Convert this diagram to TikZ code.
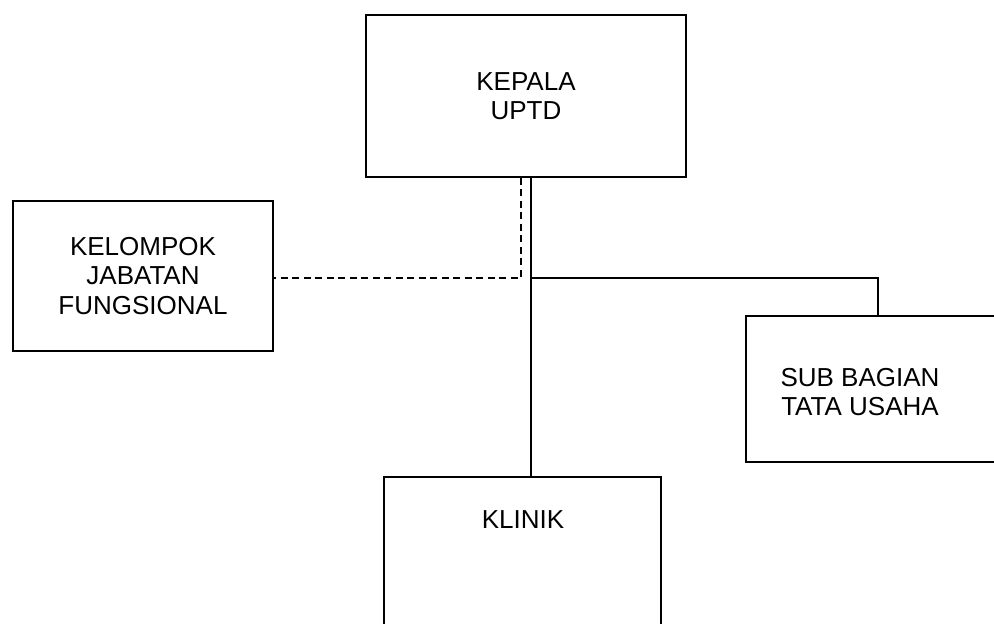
\documentclass[tikz,border=0pt]{standalone}
\usepackage{fontspec}
\setmainfont{Liberation Sans}
\begin{document}
\begin{tikzpicture}[x=1pt,y=-1pt,
  box/.style={draw=black, line width=1.8pt, rectangle, inner sep=0pt, align=center,
    font=\fontsize{26}{29.5}\selectfont},
  lbl/.style={inner sep=0pt, align=center, font=\fontsize{26}{29.5}\selectfont},
  conn/.style={draw=black, line width=1.8pt},
  dconn/.style={draw=black, line width=1.8pt, dash pattern=on 7pt off 4.5pt}]
\useasboundingbox (0,0) rectangle (994,624);
\clip (0,0) rectangle (994,624);
\fill[white] (0,0) rectangle (994,624);
\node[box, minimum width=320pt, minimum height=162pt] (kp) at (526,96) {KEPALA\\UPTD};
\node[box, minimum width=260pt, minimum height=150pt] (kf) at (143,276) {KELOMPOK\\JABATAN\\FUNGSIONAL};
\node[box, minimum width=264pt, minimum height=146pt] (tu) at (878,389) {};
\node[lbl] (tut) at (860,392) {SUB BAGIAN\\TATA USAHA};
\node[box, minimum width=277pt, minimum height=166pt] (kl) at (522.5,560) {};
\node[lbl] (klt) at (523,520) {KLINIK};
\coordinate (j) at (531,278);
\coordinate (d) at (521,278);
\draw[conn] (kp.south -| j) -- (kl.north -| j);
\draw[conn] (j) -| (tu.north);
\draw[dconn] (kp.south -| d) -- (d) -- (kf.east |- d);
\end{tikzpicture}
\end{document}
